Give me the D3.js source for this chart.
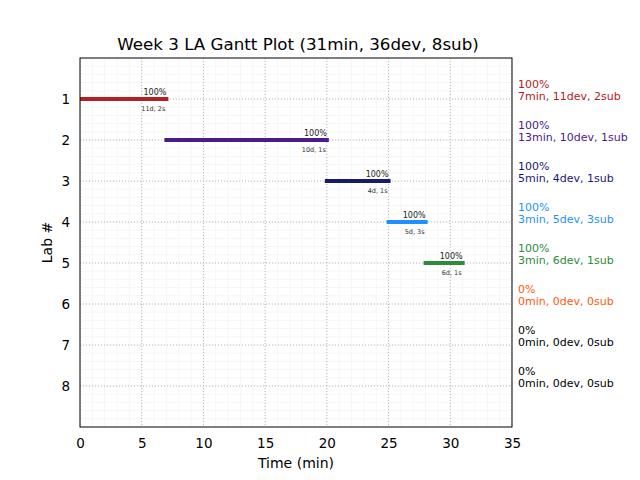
<!DOCTYPE html>
<html><head><meta charset="utf-8">
<script src="https://cdn.jsdelivr.net/npm/d3@7"></script>
<style>body{margin:0;background:#fff}svg{font-family:"DejaVu Sans",sans-serif}</style>
</head><body><svg id="c" width="640" height="480"></svg>
<script>
const labs = [1,2,3,4,5,6,7,8];
const starts = [0,7,20,25,28];
const ends = [7,20,25,28,31];
const pctLabels = ["100%","100%","100%","100%","100%","0%","0%","0%"];
const barSubLabels = ["11d, 2s","10d, 1s","4d, 1s","5d, 3s","6d, 1s"];
const minutes = [7,13,5,3,3,0,0,0];
const devs = [11,10,4,5,6,0,0,0];
const subs = [2,1,1,3,1,0,0,0];
const colors = ["#b22222","#4b1a8c","#191970","#1e90ff","#2e8b3a","#ff5a0a","#000000","#000000"];
const xTicks = [0,5,10,15,20,25,30,35];
const title = "Week 3 LA Gantt Plot (31min, 36dev, 8sub)";

const svg = d3.select("#c");
const L=80,R=512,T=58,B=427;
const x = d3.scaleLinear().domain([0,35]).range([L,R]);
const y = d3.scaleLinear().domain([0,9]).range([T,B]);

svg.append("defs").append("clipPath").attr("id","clip").append("rect")
 .attr("x",L).attr("y",T).attr("width",R-L).attr("height",B-T);

const g = svg.append("g").attr("clip-path","url(#clip)");
// minor grid
g.selectAll(".mx").data(d3.range(0,36,1)).enter().append("line")
 .attr("x1",d=>x(d)).attr("x2",d=>x(d)).attr("y1",T).attr("y2",B)
 .attr("stroke","#f6f6f6").attr("stroke-width",1);
g.selectAll(".my").data(d3.range(0,45).map(i=>i*0.2)).enter().append("line")
 .attr("y1",d=>y(d)).attr("y2",d=>y(d)).attr("x1",L).attr("x2",R)
 .attr("stroke","#f6f6f6").attr("stroke-width",1);
// major grid
g.selectAll(".Mx").data(xTicks).enter().append("line")
 .attr("x1",d=>x(d)).attr("x2",d=>x(d)).attr("y1",T).attr("y2",B)
 .attr("stroke","#b8b8b8").attr("stroke-width",1).attr("stroke-dasharray","1,2");
g.selectAll(".My").data(labs).enter().append("line")
 .attr("y1",d=>y(d)).attr("y2",d=>y(d)).attr("x1",L).attr("x2",R)
 .attr("stroke","#b8b8b8").attr("stroke-width",1).attr("stroke-dasharray","1,2");

// bars
starts.forEach((s,i)=>{
  const e = ends[i], yy = y(labs[i]);
  g.append("line").attr("x1",x(s)).attr("x2",x(e)).attr("y1",yy).attr("y2",yy)
   .attr("stroke",colors[i]).attr("stroke-width",4).attr("stroke-linecap","square");
  g.append("text").attr("x",x(e)).attr("y",yy-4).attr("text-anchor","end")
   .attr("font-size",8).attr("fill","#222").text(pctLabels[i]);
  g.append("text").attr("x",x(e)-1).attr("y",yy+12).attr("text-anchor","end")
   .attr("font-size",6.5).attr("fill","#333").text(barSubLabels[i]);
});

// frame
svg.append("rect").attr("x",L).attr("y",T).attr("width",R-L).attr("height",B-T)
 .attr("fill","none").attr("stroke","#000").attr("stroke-width",1);

// axes
const xa = svg.append("g").attr("transform",`translate(0,${B})`)
 .call(d3.axisBottom(x).tickValues(xTicks).tickSize(0).tickPadding(11).tickFormat(d3.format("d")));
const ya = svg.append("g").attr("transform",`translate(${L},0)`)
 .call(d3.axisLeft(y).tickValues(labs).tickSize(0).tickPadding(10).tickFormat(d3.format("d")));
[xa,ya].forEach(a=>{a.select(".domain").remove();a.selectAll("text").attr("font-size",13.5).attr("fill","#000").attr("font-family","DejaVu Sans");});

// right labels
labs.forEach((l,i)=>{
  const t = svg.append("text").attr("x",518).attr("fill",colors[i]).attr("font-size",11);
  t.append("tspan").attr("x",518).attr("y",y(l)-11).text(pctLabels[i]);
  t.append("tspan").attr("x",518).attr("y",y(l)+1).text(`${minutes[i]}min, ${devs[i]}dev, ${subs[i]}sub`);
});

svg.append("text").attr("x",(L+R)/2+2).attr("y",50).attr("text-anchor","middle")
 .attr("font-size",16.7).text(title);
svg.append("text").attr("x",(L+R)/2).attr("y",468).attr("text-anchor","middle")
 .attr("font-size",14).text("Time (min)");
svg.append("text").attr("transform",`translate(52,${(T+B)/2}) rotate(-90)`).attr("text-anchor","middle")
 .attr("font-size",14).text("Lab #");
</script></body></html>
